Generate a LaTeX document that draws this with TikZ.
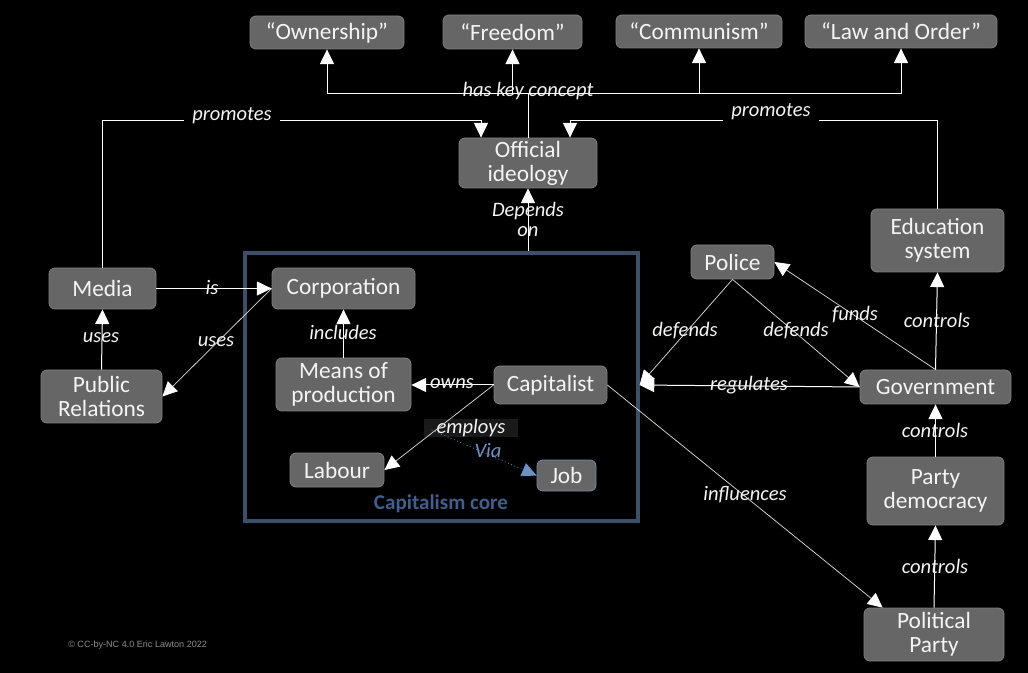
\documentclass[tikz,border=0pt]{standalone}
\usepackage{fontspec}
\setmainfont{Carlito}
\newfontfamily\cpyfont{Liberation Sans}
\usetikzlibrary{arrows.meta,calc,fit}
\definecolor{nodefill}{HTML}{666666}
\definecolor{nodeline}{HTML}{808080}
\definecolor{coreblue}{HTML}{3A5068}
\definecolor{corelabel}{HTML}{3F5F8F}
\definecolor{viablue}{HTML}{6A92C6}
\definecolor{jobline}{HTML}{6E8DB0}
\definecolor{txt}{HTML}{F4F4F4}
\definecolor{emplbg}{HTML}{1A1A1A}
\definecolor{cpygray}{HTML}{8C8C8C}
\begin{document}
\begin{tikzpicture}[x=0.75pt,y=-0.75pt,
  concept/.style={rectangle, rounded corners=4.5pt, fill=nodefill, draw=nodeline, line width=0.6pt,
    text=txt, font=\fontsize{17.5}{18}\selectfont, align=center, inner sep=0pt},
  sz/.style 2 args={minimum width={#1*0.75pt}, minimum height={#2*0.75pt}},
  lbl/.style={text=txt, font=\fontsize{15.4}{16}\selectfont\itshape, inner sep=1pt, align=center},
  conn/.style={draw=white, line width=0.75pt},
  dline/.style={draw=white!85!black, line width=0.55pt},
  tip/.style={-{Triangle[length=11pt,width=10.5pt,color=white]}},
  arr/.style={conn, tip},
  darr/.style={dline, tip},
]
% background and bounding box
\fill[black] (0,0) rectangle (1028,673);
\useasboundingbox (0,0) rectangle (1028,673);

% capitalism core group
\node[fit={(245,253) (638,521)}, inner sep=0pt, draw=coreblue, line width=2.4pt] (core) {};
\node[text=corelabel, font=\fontsize{15.8}{17}\selectfont\bfseries] (corelbl) at (441,504) {Capitalism core};

% employs linking phrase (background box)
\node[lbl, fill=emplbg, minimum width={94*0.75pt}, minimum height={17*0.75pt}, inner sep=0pt] (empl) at (471,428) {employs};

% concept nodes
\node[concept, sz={154}{33}] (own)  at (327,32.5) {“Ownership”};
\node[concept, sz={139}{34}] (free) at (512.5,32) {“Freedom”};
\node[concept, sz={166}{33}] (comm) at (699,31.5) {“Communism”};
\node[concept, sz={192}{33}] (law)  at (901,31.5) {“Law and Order”};
\node[concept, sz={138}{50}] (oi)   at (528,163) {Official\\ideology};
\node[concept, sz={107}{41}] (media) at (102.5,288.5) {Media};
\node[concept, sz={121}{53}] (pr)   at (101.5,396.5) {Public\\Relations};
\node[concept, sz={143}{41}] (corp) at (343.5,288.5) {Corporation};
\node[concept, sz={135}{53}] (means) at (343.5,384.5) {Means of\\production};
\node[concept, sz={113}{38}] (cap)  at (550.5,385) {Capitalist};
\node[concept, sz={94}{34}]  (lab)  at (337,470) {Labour};
\node[concept, sz={59}{31}, draw=jobline] (job) at (566.5,475.5) {Job};
\node[concept, sz={83}{34}]  (police) at (732.5,262) {Police};
\node[concept, sz={133}{63}] (edu)  at (937.5,240.5) {Education\\system};
\node[concept, sz={151}{34}] (gov)  at (935.5,387) {Government};
\node[concept, sz={137}{68}] (pd)   at (935.5,491) {Party\\democracy};
\node[concept, sz={140}{53}] (pp)   at (934,634.5) {Political\\Party};

% has key concept
\coordinate (hk) at ($(oi.north)+(0,-44)$);
\draw[conn] (oi.north) -- (hk);
\draw[arr] (hk) -| (own.south);
\draw[arr] (hk) -| (free.south);
\draw[arr] (hk) -| (comm.south);
\draw[arr] (hk) -| (law.south);

% promotes
\draw[arr] (media.north) |- ($(oi.north)+(-47,-17)$) -- ($(oi.north)+(-47,0)$);
\draw[arr] (edu.north) |- ($(oi.north)+(42,-17)$) -- ($(oi.north)+(42,0)$);

% depends on
\draw[arr] (core.north -| oi.south) -- (oi.south);

% left part
\draw[arr] (media.east) -- (corp.west);
\draw[arr] (pr.north) -- (media.south);
\draw[darr] (corp.west) -- (pr.east);
\draw[arr] (means.north) -- (corp.south);
\draw[arr] (cap.west) -- (cap.west -| means.east);
\draw[darr] (cap.west) -- (lab.east);
\draw[viablue, line width=0.6pt, dotted, -{Triangle[length=11pt,width=10.5pt]}] ($(empl.west)+(8,2)$) -- (job.west);

% right part
\coordinate (coreR) at (core.east |- cap.east);
\draw[arr] (gov.west) -- (coreR);
\draw[darr] (police.south) -- (coreR);
\draw[darr] (police.south) -- (gov.west);
\draw[darr] (gov.north) -- (police.east);
\draw[arr] (gov.north) -- (edu.south);
\draw[arr] (pd.north) -- (gov.south);
\draw[arr] (pp.north) -- (pd.south);
\draw[darr] (cap.east) -- ($(pp.north west)+(19,0)$);

% labels
\node[lbl] (lhk) at (528,91) {has key concept};
\node[lbl, fill=black, inner xsep=6pt] (lpr1) at (232,116) {promotes};
\node[lbl, fill=black, inner xsep=6pt] (lpr2) at (771,112) {promotes};
\node[lbl, font=\fontsize{15.4}{15}\selectfont\itshape] (ldep) at (528,219) {Depends\\on};
\node[lbl] (lis) at (212,288) {is};
\node[lbl] (lus1) at (101,338) {uses};
\node[lbl] (lus2) at (216,342) {uses};
\node[lbl] (linc) at (343,332) {includes};
\node[lbl] (lown) at (452,384) {owns};
\node[lbl, text=viablue] (lvia) at (488,451) {Via};
\node[lbl] (ldef1) at (685,331) {defends};
\node[lbl] (ldef2) at (796,331) {defends};
\node[lbl] (lfund) at (855,315) {funds};
\node[lbl] (lctl1) at (937,320) {controls};
\node[lbl] (lreg) at (749,385) {regulates};
\node[lbl] (lctl2) at (935,430) {controls};
\node[lbl] (linf) at (745,495) {influences};
\node[lbl] (lctl3) at (935,566) {controls};

% copyright
\node[anchor=west, text=cpygray, font=\cpyfont\fontsize{6.8}{8}\selectfont, inner sep=0pt] (cpy) at (68,645) {© CC-by-NC 4.0 Eric Lawton 2022};
\end{tikzpicture}
\end{document}
